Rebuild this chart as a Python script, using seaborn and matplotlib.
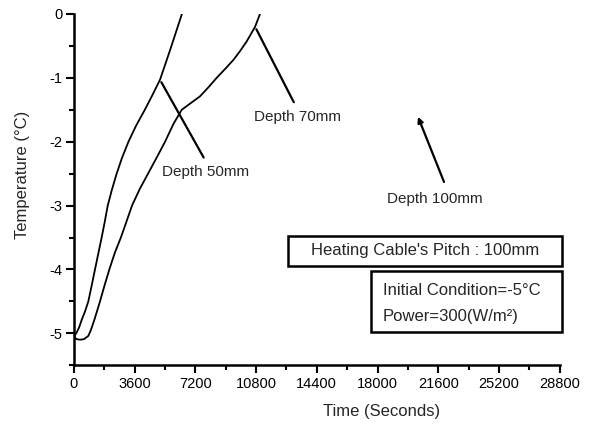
import matplotlib
matplotlib.use("Agg")
import matplotlib.pyplot as plt
import seaborn as sns
import pandas as pd
from matplotlib.patches import Rectangle
from matplotlib.ticker import MultipleLocator

# ---- data ----
t50 = [0, 150, 300, 455, 650, 850, 1050, 1245, 1450, 1640, 1820, 2000, 2250, 2530, 2850,
       3230, 3680, 4200, 4650, 5100, 5500, 5780, 6090, 6400]
T50 = [-5.05, -4.99, -4.91, -4.79, -4.66, -4.5, -4.25, -4.0, -3.74, -3.5, -3.26, -3.0,
       -2.75, -2.5, -2.25, -2.0, -1.75, -1.5, -1.27, -1.03, -0.72, -0.5, -0.25, 0.0]

t70 = [0, 150, 356, 600, 850, 1000, 1206, 1542, 1800, 2095, 2420, 2780, 3100, 3440, 3900,
       4390, 4900, 5400, 5900, 6390, 6900, 7470, 8000, 8460, 9000, 9450, 9850, 10240,
       10740, 11030]
T70 = [-5.05, -5.09, -5.1, -5.09, -5.04, -4.95, -4.79, -4.5, -4.26, -4.0, -3.74, -3.5,
       -3.26, -3.0, -2.74, -2.5, -2.25, -2.0, -1.72, -1.5, -1.4, -1.29, -1.14, -1.0,
       -0.85, -0.72, -0.58, -0.43, -0.2, 0.0]

x_ticks = [0, 3600, 7200, 10800, 14400, 18000, 21600, 25200, 28800]
y_ticks = [0, -1, -2, -3, -4, -5]

df50 = pd.DataFrame({"t": t50, "T": T50})
df70 = pd.DataFrame({"t": t70, "T": T70})

sns.set_style("ticks")
plt.rcParams["font.family"] = ["Liberation Sans", "DejaVu Sans"]

fig = plt.figure(figsize=(5.91, 4.25), dpi=100)
ax = fig.add_axes([0.1252, 0.1405, 0.8217, 0.8266])

sns.lineplot(data=df50, x="t", y="T", ax=ax, color="black", linewidth=1.3,
             estimator=None, sort=False)
sns.lineplot(data=df70, x="t", y="T", ax=ax, color="black", linewidth=1.3,
             estimator=None, sort=False)

ax.set_xlim(0, 28800)
ax.set_ylim(-5.5, 0)
ax.set_xticks(x_ticks)
ax.set_xticklabels([str(v) for v in x_ticks])
ax.set_yticks(y_ticks)
ax.set_yticklabels([str(v) for v in y_ticks])
ax.xaxis.set_minor_locator(MultipleLocator(1800))
ax.yaxis.set_minor_locator(MultipleLocator(0.5))

for side in ["top", "right"]:
    ax.spines[side].set_visible(False)
for side in ["left", "bottom"]:
    ax.spines[side].set_linewidth(1.8)
    ax.spines[side].set_color("black")

ax.tick_params(axis="both", which="major", direction="out", length=5.5, width=1.5,
               labelsize=10.5, colors="black", pad=3)
ax.tick_params(axis="both", which="minor", direction="out", length=3.5, width=1.5,
               colors="black")

ax.set_xlabel("Time (Seconds)", fontsize=12)
ax.set_ylabel("Temperature (°C)", fontsize=12)
ax.xaxis.set_label_coords(0.633, -0.11)
ax.yaxis.set_label_coords(-0.09, 0.542)

# ---- annotations ----
ax.annotate("", xy=(5100, -1.03), xytext=(7770, -2.285),
            arrowprops=dict(arrowstyle="-", color="black", lw=1.6))
ax.text(5220, -2.47, "Depth 50mm", fontsize=11, va="center", ha="left")

ax.annotate("", xy=(10740, -0.2), xytext=(13110, -1.42),
            arrowprops=dict(arrowstyle="-", color="black", lw=1.6))
ax.text(10660, -1.62, "Depth 70mm", fontsize=11, va="center", ha="left")

ax.annotate("", xy=(20402, -1.61), xytext=(21944, -2.63),
            arrowprops=dict(arrowstyle="-|>", color="black", lw=1.6,
                            mutation_scale=8, shrinkA=0, shrinkB=0))
ax.text(21410, -2.9, "Depth 100mm", fontsize=11, va="center", ha="center")

# ---- boxes ----
ax.add_patch(Rectangle((0.4407, 0.2827), 1.005 - 0.4407, 0.3681 - 0.2827,
                       transform=ax.transAxes, fill=False, edgecolor="black",
                       linewidth=1.8, clip_on=False))
ax.text(0.7228, 0.3265, "Heating Cable's Pitch : 100mm", transform=ax.transAxes,
        fontsize=12, ha="center", va="center")

ax.add_patch(Rectangle((0.6116, 0.0948), 1.005 - 0.6116, 0.2684 - 0.0948,
                       transform=ax.transAxes, fill=False, edgecolor="black",
                       linewidth=1.8, clip_on=False))
ax.text(0.6357, 0.2143, "Initial Condition=-5°C", transform=ax.transAxes,
        fontsize=12, ha="left", va="center")
ax.text(0.6357, 0.1383, "Power=300(W/m²)", transform=ax.transAxes,
        fontsize=12, ha="left", va="center")

fig.savefig("out.png", dpi=100)
